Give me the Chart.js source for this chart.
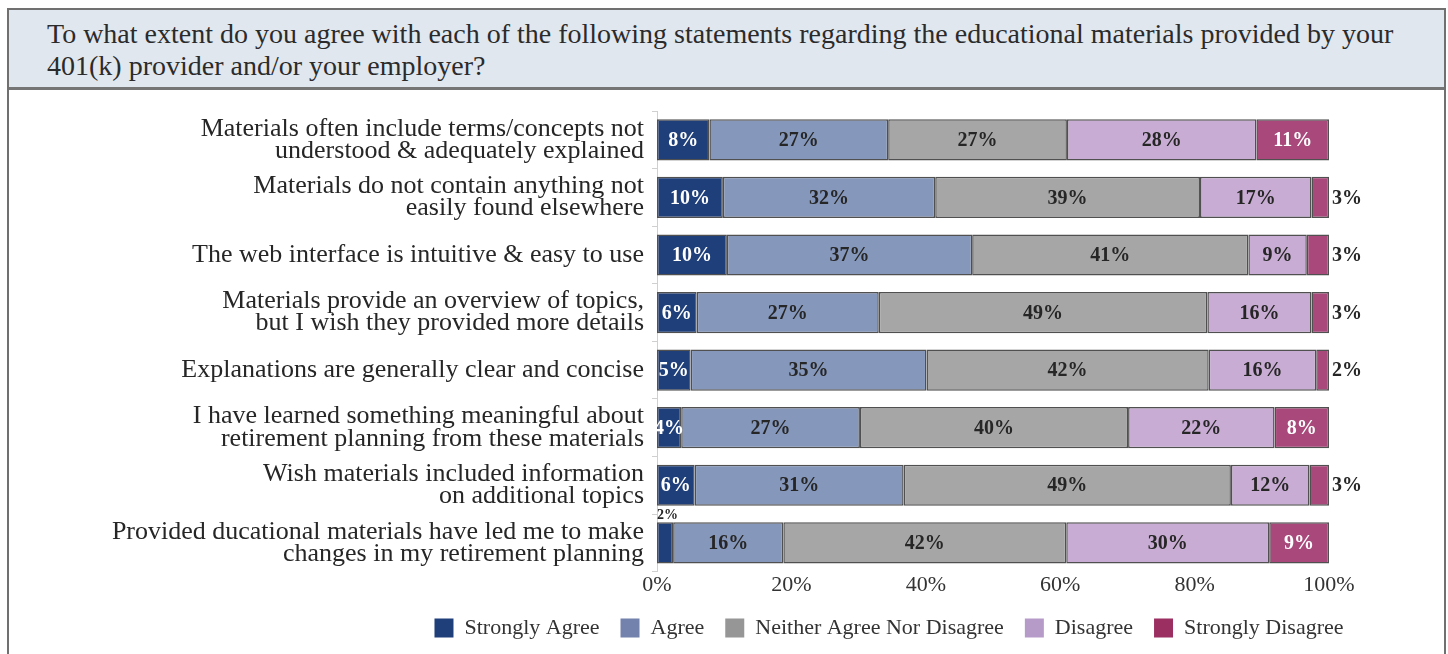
<!DOCTYPE html>
<html>
<head>
<meta charset="utf-8">
<script src="https://cdn.jsdelivr.net/npm/chart.js@4"></script>
<style>
  html,body{margin:0;padding:0;background:#fff;width:1448px;height:654px;overflow:hidden;}
  #frame{position:absolute;left:7px;top:8px;width:1435px;height:720px;border:2px solid #707070;}
  #titlebox{position:absolute;left:0;top:0;width:1435px;height:77px;background:#e1e7ef;border-bottom:3px solid #757575;}
  #title{position:absolute;left:38px;top:8px;font-family:"Liberation Serif",serif;font-size:28px;line-height:32px;color:#2b2b2b;white-space:nowrap;}
  #wrap{position:absolute;left:0;top:81px;width:1448px;height:573px;}
</style>
</head>
<body>
<div id="frame"><div id="titlebox"><div id="title">To what extent do you agree with each of the following statements regarding the educational materials provided by your<br>401(k) provider and/or your employer?</div></div></div>
<div id="wrap"><canvas id="c"></canvas></div>
<script>
const categories = [
  ["Materials often include terms/concepts not", "understood & adequately explained"],
  ["Materials do not contain anything not", "easily found elsewhere"],
  ["The web interface is intuitive & easy to use"],
  ["Materials provide an overview of topics,", "but I wish they provided more details"],
  ["Explanations are generally clear and concise"],
  ["I have learned something meaningful about", "retirement planning from these materials"],
  ["Wish materials included information", "on additional topics"],
  ["Provided ducational materials have led me to make", "changes in my retirement planning"]
];
const seriesNames = ["Strongly Agree", "Agree", "Neither Agree Nor Disagree", "Disagree", "Strongly Disagree"];
const stronglyAgree = [7.8, 9.8, 10.4, 5.9, 5.0, 3.6, 5.6, 2.4];
const agree         = [26.6, 31.6, 36.5, 27.1, 35.1, 26.6, 31.1, 16.4];
const neither       = [26.6, 39.4, 41.1, 48.9, 42.0, 39.9, 48.7, 42.1];
const disagree      = [28.2, 16.6, 8.7, 15.5, 16.0, 21.8, 11.7, 30.2];
const stronglyDis   = [10.8, 2.6, 3.3, 2.6, 1.9, 8.1, 2.9, 8.9];
const xTicks = [0, 20, 40, 60, 80, 100];

const barColors    = ["#1f3f7a", "#8597bb", "#a6a6a6", "#c8acd3", "#a9497b"];
const legendColors = ["#1f3f7b", "#7381ad", "#969696", "#b69bc9", "#9b2f62"];
const labelColors  = ["#ffffff", "#262626", "#262626", "#262626", "#ffffff"];
const seriesData = [stronglyAgree, agree, neither, disagree, stronglyDis];

const FONT = '"Liberation Serif", "Times New Roman", serif';
const LEGEND_CENTER_X = 889;

const labelPlugin = {
  id: 'barLabels',
  afterLayout(chart) {
    const lg = chart.legend;
    if (!lg) return;
    const shift = LEGEND_CENTER_X - (lg.left + lg.right) / 2;
    lg.left += shift;
    lg.right += shift;
  },
  afterDatasetsDraw(chart) {
    const ctx = chart.ctx;
    const last = chart.data.datasets.length - 1;
    chart.data.datasets.forEach((ds, di) => {
      const meta = chart.getDatasetMeta(di);
      meta.data.forEach((bar, i) => {
        const v = ds.data[i];
        const r = Math.round(v);
        const txt = r + '%';
        const p = bar.getProps(['x', 'y', 'base', 'height'], true);
        ctx.save();
        ctx.textBaseline = 'middle';
        if (r > 3) {
          ctx.font = 'bold 20px ' + FONT;
          ctx.fillStyle = labelColors[di];
          ctx.textAlign = 'center';
          ctx.fillText(txt, (p.x + p.base) / 2, p.y + 1);
        } else if (di === last) {
          ctx.font = 'bold 20px ' + FONT;
          ctx.fillStyle = '#262626';
          ctx.textAlign = 'left';
          ctx.fillText(txt, p.x + 3, p.y + 1);
        } else {
          ctx.font = 'bold 14px ' + FONT;
          ctx.fillStyle = '#262626';
          ctx.textAlign = 'left';
          ctx.fillText(txt, p.base, p.y - p.height / 2 - 7);
        }
        ctx.restore();
      });
    });
  }
};

new Chart(document.getElementById('c'), {
  type: 'bar',
  data: {
    labels: categories,
    datasets: seriesNames.map((name, k) => ({
      label: name,
      data: seriesData[k],
      backgroundColor: barColors[k],
      borderColor: '#505050',
      borderWidth: 1.5,
      borderSkipped: false,
      categoryPercentage: 1,
      barPercentage: 0.715
    }))
  },
  options: {
    indexAxis: 'y',
    responsive: true,
    maintainAspectRatio: false,
    animation: false,
    layout: { padding: { left: 0, right: 119, top: 30, bottom: 5 } },
    scales: {
      x: {
        stacked: true,
        min: 0, max: 100,
        afterBuildTicks: s => { s.ticks = xTicks.map(v => ({ value: v })); },
        afterFit: s => { s.height = s.height - 2; },
        ticks: { callback: v => v + '%', font: { family: FONT, size: 22 }, color: '#333333', padding: 0, maxRotation: 0 },
        grid: { display: false, drawTicks: false },
        border: { display: false }
      },
      y: {
        stacked: true,
        afterFit: s => { s.width = 657; },
        ticks: { font: { family: FONT, size: 26, lineHeight: 0.85 }, color: '#262626', padding: 8 },
        grid: { drawOnChartArea: false, tickLength: 5, color: '#d0d0d0' },
        border: { display: true, color: '#d0d0d0' }
      }
    },
    plugins: {
      legend: {
        position: 'bottom',
        labels: {
          font: { family: FONT, size: 22 },
          color: '#333333',
          boxWidth: 19, boxHeight: 19,
          padding: 21,
          generateLabels: chart => chart.data.datasets.map((ds, k) => ({
            text: ds.label, fillStyle: legendColors[k], strokeStyle: legendColors[k], lineWidth: 0,
            hidden: false, datasetIndex: k, fontColor: '#333333'
          }))
        }
      },
      tooltip: { enabled: false }
    }
  },
  plugins: [labelPlugin]
});
</script>
</body>
</html>
